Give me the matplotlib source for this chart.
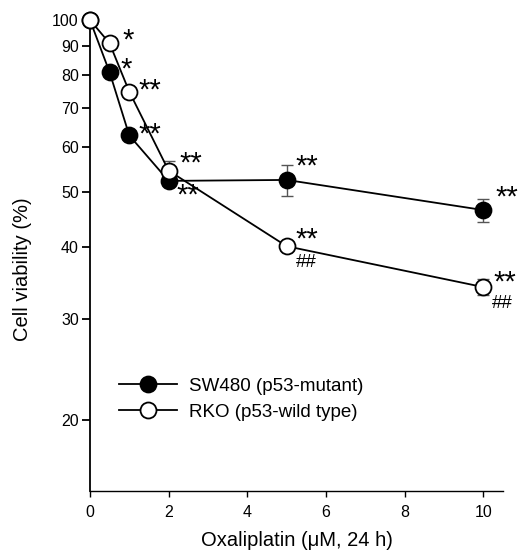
import matplotlib
matplotlib.use("Agg")
import matplotlib.pyplot as plt
from matplotlib.ticker import FixedLocator, NullLocator, FixedFormatter

plt.rcParams['font.family'] = ['Liberation Sans', 'DejaVu Sans']

# Data
dose = [0, 0.5, 1, 2, 5, 10]
sw480 = [100, 81.0, 62.8, 52.3, 52.5, 46.5]
sw480_err = [0, 0, 0, 0, 3.3, 2.2]
rko = [100, 91.0, 74.9, 54.5, 40.2, 34.1]
rko_err = [0, 0, 0, 2.1, 0.5, 1.1]

sw480_marks = ['', '*', '**', '**', '**', '**']
rko_marks = ['', '*', '**', '**', '**', '**']
rko_hash = ['', '', '', '', '##', '##']

yticks = [20, 30, 40, 50, 60, 70, 80, 90, 100]
xticks = [0, 2, 4, 6, 8, 10]

fig = plt.figure(figsize=(5.29, 5.53), dpi=100)
ax = fig.add_axes([0.170, 0.112, 0.781, 0.852])

ax.errorbar(dose, sw480, yerr=sw480_err, fmt='none', ecolor='#555555',
            elinewidth=1.0, capsize=4, capthick=1.0, zorder=2)
ax.errorbar(dose, rko, yerr=rko_err, fmt='none', ecolor='#555555',
            elinewidth=1.0, capsize=4, capthick=1.0, zorder=2)
ax.plot(dose, sw480, color='black', lw=1.3, marker='o', ms=11.5,
        mfc='black', mec='black', mew=1.3, zorder=3, clip_on=False,
        label='SW480 (p53-mutant)')
ax.plot(dose, rko, color='black', lw=1.3, marker='o', ms=11.5,
        mfc='white', mec='black', mew=1.3, zorder=4, clip_on=False,
        label='RKO (p53-wild type)')

ax.set_yscale('log')
ax.set_ylim(15, 100)
ax.set_xlim(0, 10.5)
ax.yaxis.set_major_locator(FixedLocator(yticks))
ax.yaxis.set_major_formatter(FixedFormatter([str(v) for v in yticks]))
ax.yaxis.set_minor_locator(NullLocator())
ax.set_xticks(xticks)
ax.set_xticklabels([str(v) for v in xticks])

for s in ['top', 'right']:
    ax.spines[s].set_visible(False)
ax.spines['left'].set_linewidth(1.3)
ax.spines['bottom'].set_linewidth(1.0)
ax.tick_params(axis='y', direction='out', length=6, width=1.3, labelsize=11.5, pad=2)
ax.tick_params(axis='x', direction='out', length=4, width=1.0, labelsize=11.5, pad=6)

ax.set_ylabel('Cell viability (%)', fontsize=14.5)
ax.yaxis.set_label_coords(-0.14, 0.47)
ax.set_xlabel('Oxaliplatin (\u03bcM, 24 h)', fontsize=14.5, labelpad=8)

# Significance marks (offsets in pixels)
sw_off = [(0, 0), (11, 3), (9, 1), (8, -15), (9, 13), (12, 13)]
rko_off = [(0, 0), (13, 3), (9, 1), (11, 7), (9, 7), (10, 5)]
for x, y, m, o in zip(dose, sw480, sw480_marks, sw_off):
    if m:
        ax.annotate(m, (x, y), xytext=o, textcoords='offset pixels',
                    fontsize=21, ha='left', va='center')
for x, y, m, o in zip(dose, rko, rko_marks, rko_off):
    if m:
        ax.annotate(m, (x, y), xytext=o, textcoords='offset pixels',
                    fontsize=21, ha='left', va='center')
for x, y, m in zip(dose, rko, rko_hash):
    if m:
        ax.annotate(m, (x, y), xytext=(9, -16), textcoords='offset pixels',
                    fontsize=13.5, ha='left', va='center')

ax.legend(loc='center left', bbox_to_anchor=(0.07, 0.195), frameon=False,
          fontsize=13.5, handlelength=3.1, handletextpad=0.65, labelspacing=0.5,
          borderpad=0, borderaxespad=0)

fig.savefig('out.png', dpi=100)
